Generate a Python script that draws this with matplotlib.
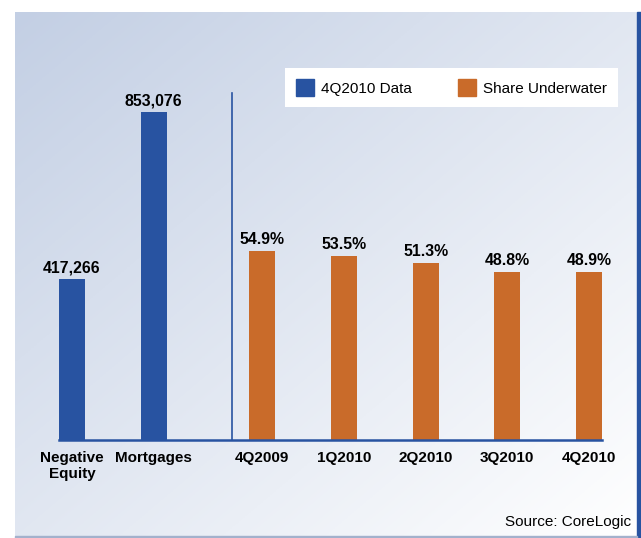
import numpy as np
import matplotlib.pyplot as plt
from matplotlib.patches import Rectangle, Patch

# values
categories = ['Negative\nEquity', 'Mortgages', '4Q2009', '1Q2010', '2Q2010', '3Q2010', '4Q2010']
counts = [417266, 853076]
count_labels = ['417,266', '853,076']
share = [54.9, 53.5, 51.3, 48.8, 48.9]

blue = '#2853a1'
orange = '#c96b2a'

plt.rcParams['font.family'] = ['Liberation Sans', 'DejaVu Sans']

W, H = 641, 538
fig = plt.figure(figsize=(W / 100, H / 100), dpi=100)


def fx(px):
    return px / W


def fy(py):
    return 1 - py / H


# gradient panel behind the chart
bg = fig.add_axes([fx(15), fy(537), fx(637) - fx(15), fy(12) - fy(537)])
yy, xx = np.mgrid[0:1:200j, 0:1:200j]
t = (xx + yy) / 2
c0 = np.array([195, 207, 228]) / 255
img = c0 + (1 - c0) * t[..., None]
bg.imshow(img, aspect='auto', extent=[0, 1, 1, 0])
bg.axis('off')

# main axes, baseline at y=439.5 px
base = 439.5
top = 60
ax = fig.add_axes([fx(59), fy(base), fx(602) - fx(59), fy(top) - fy(base)])
ax.patch.set_alpha(0)

pos_blue = np.arange(2)
pos_orange = 2.33 + np.arange(5)
bw = 0.318

ax.bar(pos_blue, counts, width=bw, color=blue, zorder=2)
ax.set_xlim(-0.159, 6.489)
ax.set_ylim(0, counts[1] * (base - top) / (base - 112))

ax2 = ax.twinx()
ax2.bar(pos_orange, share, width=bw, color=orange, zorder=2)
ax2.set_ylim(0, share[0] * (base - top) / (base - 251))

for a in (ax, ax2):
    for s in ('top', 'left', 'right', 'bottom'):
        a.spines[s].set_visible(False)
    a.set_yticks([])
ax2.spines['bottom'].set_visible(True)
ax2.spines['bottom'].set_color(blue)
ax2.spines['bottom'].set_linewidth(1.8)

ax.set_xticks(np.r_[pos_blue, pos_orange], categories,
              fontsize=11, fontweight='bold', linespacing=1.25)
ax.tick_params(axis='x', length=0, pad=8)

# divider between the two groups
ax.axvline(1.962, ymin=0, ymax=(base - 93) / (base - top), color=blue, lw=1.2)

for x, v, lbl in zip(pos_blue, counts, count_labels):
    ax.annotate(lbl, (x, v), xytext=(0, 5), textcoords='offset points',
                ha='center', va='baseline', fontsize=11.4, fontweight='bold')
for x, v in zip(pos_orange, share):
    ax2.annotate(f'{v:.1f}%', (x, v), xytext=(0, 5), textcoords='offset points',
                 ha='center', va='baseline', fontsize=11.4, fontweight='bold')

handles = [Patch(color=blue, label='4Q2010 Data'),
           Patch(color=orange, label='Share Underwater')]
fig.legend(handles=handles, ncol=2, loc='upper left',
           bbox_to_anchor=(fx(285), fy(68)), frameon=True, fancybox=False,
           edgecolor='none', facecolor='white', framealpha=1, fontsize=11,
           handlelength=1.2, handleheight=1.4, handletextpad=0.45,
           columnspacing=3.0, borderpad=0.7, borderaxespad=0)

fig.text(fx(631), fy(522), 'Source: CoreLogic', ha='right', va='center', fontsize=11)

# frame pieces
fig.add_artist(Rectangle((fx(637), 0), fx(641) - fx(637), fy(12),
                         transform=fig.transFigure, color=blue))
fig.add_artist(Rectangle((fx(15), fy(537.5)), fx(637) - fx(15), 1.2 / H,
                         transform=fig.transFigure, color='#a3b1cc'))

fig.savefig('out.png', dpi=100)
